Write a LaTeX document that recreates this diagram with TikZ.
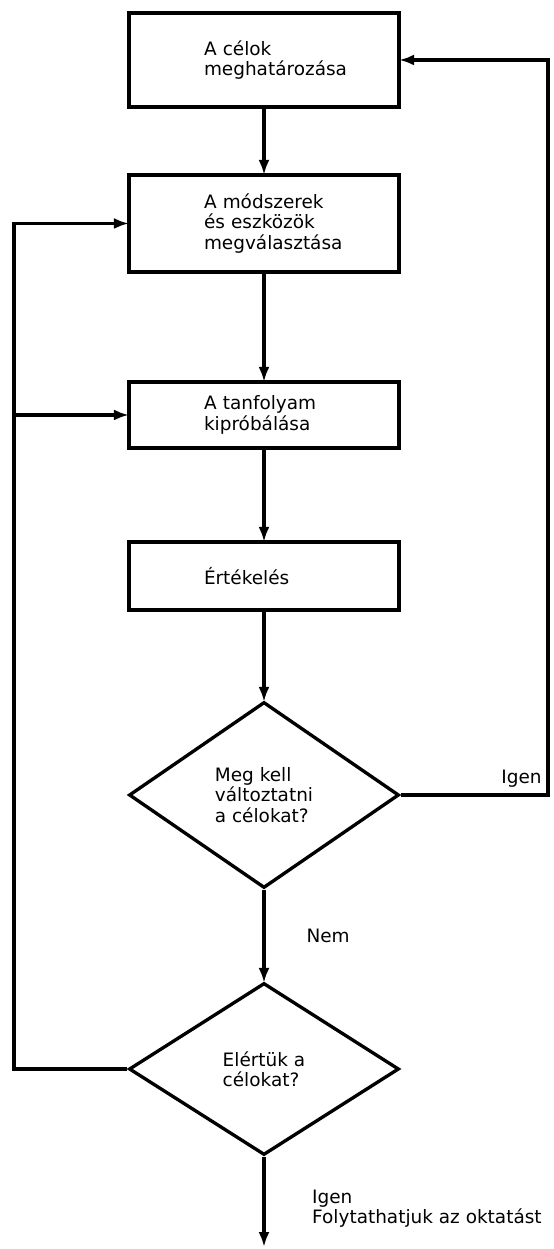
\documentclass[tikz,border=0pt]{standalone}
\usepackage{fontspec}
\setmainfont{DejaVu Sans}
\usetikzlibrary{arrows.meta,shapes.geometric}

\begin{document}
\begin{tikzpicture}[
	font=\fontsize{10.5}{11.5}\selectfont,
	lepes/.style={draw, line width=1.9pt, minimum width=5.4cm, text width=2.4cm, inner xsep=1.5cm, align=left},
	dontes/.style={draw, shape=diamond, line width=1.9pt, minimum width=5.4cm, inner sep=0pt, align=left},
	nyil/.style={line width=1.9pt, shorten >=-0.9pt, -{Latex[length=3mm,width=2.2mm]}}
]
			%%%%% START %%%%%
			
			\useasboundingbox (0, 0) rectangle (11.06, 24.98);
			
			\node[lepes, minimum height=1.88cm] (celok) at (5.28, 23.78) {A célok\\meghatározása};
			\node[lepes, minimum height=1.94cm] (modszer) at (5.28, 20.51) {A módszerek\\és eszközök\\megválasztása};
			\node[lepes, minimum height=1.32cm] (proba) at (5.28, 16.68) {A tanfolyam\\kipróbálása};
			\node[lepes, minimum height=1.36cm] (ertekeles) at (5.28, 13.46) {Értékelés};
			
			\node[dontes, minimum height=3.72cm] (valtoztat) at (5.28, 9.08) {Meg kell\\változtatni\\a célokat?};
			\node[dontes, minimum height=3.44cm] (elertuk) at (5.28, 3.60) {Elértük a\\célokat?};
			
			\coordinate (bal) at (0.28, 0);
			\coordinate (jobb) at (10.96, 0);
			\coordinate (vege) at (5.28, 0.04);
			
			\draw[nyil] (celok) -- (modszer);
			\draw[nyil] (modszer) -- (proba);
			\draw[nyil] (proba) -- (ertekeles);
			\draw[nyil] (ertekeles) -- (valtoztat);
			\draw[nyil] (valtoztat) -- node[anchor=west, xshift=0.7cm] (nem) {Nem} (elertuk);
			
			% visszacsatolas a celokhoz
			\draw[nyil] (valtoztat.east) -- node[pos=0.82, above] (igen) {Igen} (jobb |- valtoztat.east) -- (jobb |- celok.east) -- (celok.east);
			
			% visszacsatolas a modszerekhez es a kiprobalashoz
			\draw[nyil] (elertuk.west) -- (bal |- elertuk.west) -- (bal |- modszer.west) -- (modszer.west);
			\draw[nyil] (bal |- proba.west) -- (proba.west);
			
			\draw[nyil, shorten >=0pt] (elertuk) -- (vege);
			\node[anchor=west, align=left] (folytat) at (6.12, 0.80) {Igen\\Folytathatjuk az oktatást};
			
			%%%%% END %%%%%
		\end{tikzpicture}
\end{document}
